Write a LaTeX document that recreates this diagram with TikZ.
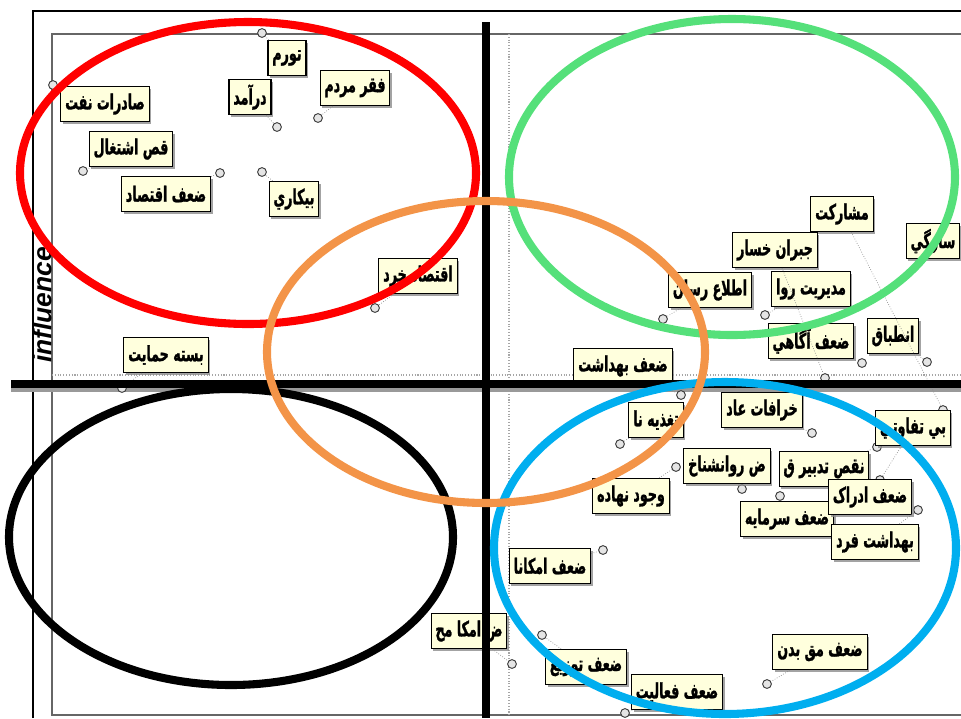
\documentclass[tikz,border=0pt]{standalone}
\usepackage{fontspec}
\usepackage{tikz}
\usetikzlibrary{shadows}
\newfontfamily\arabicfont[Script=Arabic, FakeStretch=0.6, FakeBold=1.2]{DejaVu Sans Bold}
\newfontfamily\axisfont{Liberation Sans}
\TeXXeTstate=1
\newcommand{\fa}[1]{\beginR #1\endR}
\definecolor{cream}{RGB}{255,255,221}
\definecolor{gred}{RGB}{255,0,0}
\definecolor{ggreen}{RGB}{85,224,122}
\definecolor{gorange}{RGB}{243,148,72}
\definecolor{gblue}{RGB}{0,174,239}

\begin{document}
\begin{tikzpicture}[x=0.02cm, y=-0.02cm,
    lbl/.style={draw, line width=0.6pt, fill=cream, inner sep=2.5pt, minimum height=20pt,
        font=\arabicfont\fontsize{12}{13}\selectfont,
        drop shadow={shadow xshift=1.2pt, shadow yshift=-1.2pt, fill=black!45, opacity=0.8}},
    mk/.style={circle, draw=black!75, fill=black!10, line width=0.55pt, inner sep=0pt, minimum size=5pt},
    lead/.style={draw=black!45, densely dotted, line width=0.4pt},
    zone/.style={line width=4.6pt}]
    \useasboundingbox (0,0) rectangle (961,718);

    % frames
    \draw[line width=0.6pt] (33,718) -- (33,11) -- (961,11);
    \draw[black!60, line width=0.8pt] (961,34) -- (52,34) -- (52,715) -- (961,715);
    \draw[black!35, densely dotted, line width=0.6pt] (52,375) -- (961,375);
    \draw[black!35, densely dotted, line width=0.6pt] (509,34) -- (509,715);
    \fill[black!40] (11,388) rectangle (961,392);

    \node (infl) [rotate=90, font=\axisfont\bfseries\itshape\fontsize{15}{16}\selectfont] at (42,305) {influence};

    % markers
    \node (mtavarom) [mk] at (262,33) {};
    \node (mdaramad) [mk] at (277,127) {};
    \node (mfaqr) [mk] at (318,118) {};
    \node (mnaft) [mk] at (53,85) {};
    \node (meshteghal) [mk] at (83,171) {};
    \node (meqtesad) [mk] at (220,173) {};
    \node (mbikari) [mk] at (262,172) {};
    \node (mkhord) [mk] at (375,308) {};
    \node (mhemayat) [mk] at (122,388) {};
    \node (mmosharekat) [mk] at (943,410) {};
    \node (mjobran) [mk] at (825,378) {};
    \node (mettela) [mk] at (663,319) {};
    \node (mmodiriat) [mk] at (765,315) {};
    \node (magahi) [mk] at (862,363) {};
    \node (mentebagh) [mk] at (927,362) {};
    \node (mbehdasht) [mk] at (681,395) {};
    \node (mtaghzie) [mk] at (620,444) {};
    \node (mkhorafat) [mk] at (812,433) {};
    \node (mbitafavoti) [mk] at (880,480) {};
    \node (mravan) [mk] at (742,489) {};
    \node (mtadbir) [mk] at (877,447) {};
    \node (mnahade) [mk] at (676,467) {};
    \node (msarmaye) [mk] at (780,496) {};
    \node (mfard) [mk] at (918,510) {};
    \node (memkanat) [mk] at (603,550) {};
    \node (memkamoh) [mk] at (512,664) {};
    \node (mtozi) [mk] at (542,635) {};
    \node (mfaaliat) [mk] at (625,713) {};
    \node (mbadan) [mk] at (767,684) {};

    % labels
    \node (tavarom) [lbl] at (287,58) {\fa{تورم}};
    \node (daramad) [lbl] at (250,97) {\fa{درآمد}};
    \node (faqr) [lbl] at (355,88) {\fa{فقر مردم}};
    \node (naft) [lbl] at (105,104) {\fa{صادرات نفت}};
    \node (eshteghal) [lbl] at (131,149) {\fa{قص اشتغال}};
    \node (eqtesad) [lbl] at (166,194) {\fa{ضعف اقتصاد}};
    \node (bikari) [lbl] at (294,199) {\fa{بيكاري}};
    \node (khord) [lbl] at (418,276) {\fa{اقتصاد خرد}};
    \node (hemayat) [lbl] at (166,355) {\fa{بسته حمايت}};
    \node (mosharekat) [lbl] at (842,214) {\fa{مشارکت}};
    \node (sazgi) [lbl] at (933,241) {\fa{سازگي}};
    \node (jobran) [lbl] at (775,250) {\fa{جبران خسار}};
    \node (ettela) [lbl] at (710,290) {\fa{اطلاع رسان}};
    \node (modiriat) [lbl] at (811,289) {\fa{مديريت روا}};
    \node (agahi) [lbl] at (811,341) {\fa{ضعف آگاهي}};
    \node (entebagh) [lbl] at (893,336) {\fa{انطباق}};
    \node (behdasht) [lbl] at (623,366) {\fa{ضعف بهداشت}};
    \node (taghzie) [lbl] at (656,420) {\fa{تغذيه نا}};
    \node (khorafat) [lbl] at (762,410) {\fa{خرافات عاد}};
    \node (bitafavoti) [lbl] at (913,428) {\fa{بي تفاوتي}};
    \node (ravan) [lbl] at (727,466) {\fa{ض روانشناخ}};
    \node (tadbir) [lbl] at (824,469) {\fa{نقص تدبير ق}};
    \node (nahade) [lbl] at (631,496) {\fa{وجود نهاده}};
    \node (sarmaye) [lbl] at (787,519) {\fa{ضعف سرمايه}};
    \node (edrak) [lbl] at (870,497) {\fa{ضعف ادراک}};
    \node (fard) [lbl] at (875,542) {\fa{بهداشت فرد}};
    \node (emkanat) [lbl] at (550,566) {\fa{ضعف امكانا}};
    \node (emkamoh) [lbl] at (469,631) {\fa{ض امكا مح}};
    \node (tozi) [lbl] at (586,667) {\fa{ضعف توزيع}};
    \node (faaliat) [lbl] at (677,692) {\fa{ضعف فعاليت}};
    \node (badan) [lbl] at (820,652) {\fa{ضعف مق بدن}};

    % leaders
    \foreach \n in {tavarom, daramad, faqr, naft, eshteghal, eqtesad, bikari, khord, hemayat,
        mosharekat, jobran, ettela, modiriat, agahi, entebagh, behdasht, taghzie, khorafat,
        bitafavoti, ravan, tadbir, nahade, sarmaye, fard, emkanat, emkamoh, tozi, faaliat, badan}
        \draw[lead] (\n) -- (m\n);

    % axes
    \draw[line width=4.5pt] (486,22) -- (486,718);
    \draw[line width=4.5pt] (11,384) -- (961,384);

    % groups
    \draw[zone, gred] (248,173) ellipse [x radius=228, y radius=151];
    \draw[zone, ggreen] (732,177) ellipse [x radius=223, y radius=158];
    \draw[zone, black] (231,537) ellipse [x radius=222, y radius=148];
    \draw[zone, gblue] (725,548) ellipse [x radius=231, y radius=166];
    \draw[zone, gorange] (486,352) ellipse [x radius=219, y radius=151];
\end{tikzpicture}
\end{document}
